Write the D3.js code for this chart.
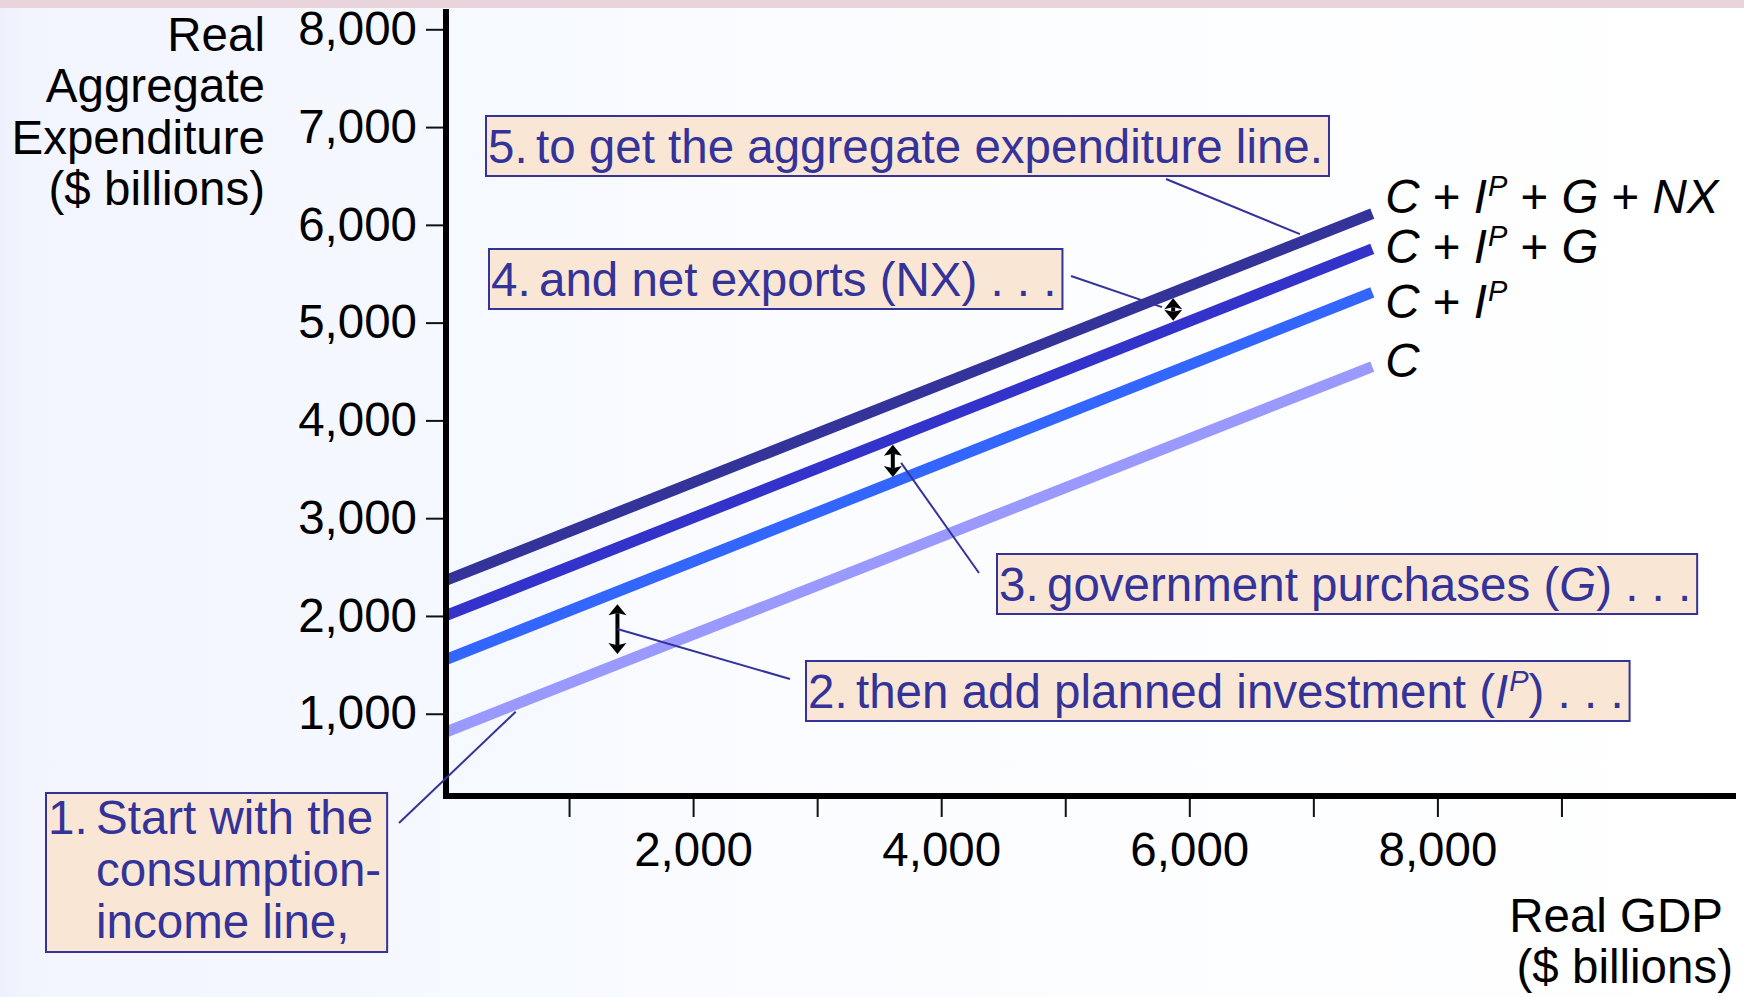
<!DOCTYPE html>
<html>
<head>
<meta charset="utf-8">
<script src="https://cdn.jsdelivr.net/npm/d3@7"></script>
<style>
  html, body { margin: 0; padding: 0; }
  body { width: 1744px; height: 997px; overflow: hidden; }
  svg { display: block; font-family: "Liberation Sans", Arial, sans-serif; }
</style>
</head>
<body>
<svg id="chart" width="1744" height="997"></svg>
<script>
// Values ($ billions). Each line is drawn between two GDP points.
const gdp = [0, 7475];
const consumption = [810, 4550];
const withInvestment = [1550, 5310];
const withGovernment = [2000, 5755];
const withNetExports = [2360, 6115];

const yTicks = [1000, 2000, 3000, 4000, 5000, 6000, 7000, 8000];
const xTicks = [1000, 2000, 3000, 4000, 5000, 6000, 7000, 8000, 9000];
const xLabelled = [2000, 4000, 6000, 8000];

// the little double arrows showing each added component
const arrowGdp = [1390, 3610, 5870];
const arrowTop = [2120, 3750, 5250];
const arrowBottom = [1610, 3420, 5020];

const yTitle = ['Real', 'Aggregate', 'Expenditure', '($ billions)'];
const xTitle = ['Real GDP', '($ billions)'];

const W = 1744, H = 997;
const FONT = 47.5;
const NAVY = '#333399';

const svg = d3.select('#chart');

// Background
const grad = svg.append('defs').append('linearGradient')
    .attr('id', 'bg').attr('x1', 0).attr('x2', 1).attr('y1', 0).attr('y2', 0);
[[0, '#edf1fb'], [0.015, '#f2f5fe'], [0.3, '#f6f9ff'], [0.45, '#fbfcff'], [1, '#ffffff']]
    .forEach(([o, c]) => grad.append('stop').attr('offset', o).attr('stop-color', c));
svg.append('rect').attr('width', W).attr('height', H).attr('fill', 'url(#bg)');
svg.append('rect').attr('width', W).attr('height', 8).attr('fill', '#e9d4dc');

// Scales
const x = d3.scaleLinear().domain([0, 10000]).range([445, 1685.5]);
const y = d3.scaleLinear().domain([0, 8000]).range([811.5, 29.3]);
const baseY = 796; // horizontal axis sits slightly above y = 0 in the original

// helper: write styled runs (italic / superscript) into a text element
function addRuns(text, runs) {
    let shift = 0;
    runs.forEach(([s, style]) => {
        const t = text.append('tspan').text(s);
        if (style.includes('i')) t.attr('font-style', 'italic');
        if (style.includes('s')) {
            t.attr('font-size', 29).attr('dy', -17).attr('dx', 1);
            shift = 17;
        } else if (shift) {
            t.attr('dy', shift);
            shift = 0;
        }
    });
}

// Lines
const series = [
    { values: consumption, color: '#9999ff', label: [['C', 'i']] },
    { values: withInvestment, color: '#3366ff', label: [['C', 'i'], [' + ', ''], ['I', 'i'], ['P', 'si']] },
    { values: withGovernment, color: '#3333cc', label: [['C', 'i'], [' + ', ''], ['I', 'i'], ['P', 'si'], [' + ', ''], ['G', 'i']] },
    { values: withNetExports, color: '#333399', label: [['C', 'i'], [' + ', ''], ['I', 'i'], ['P', 'si'], [' + ', ''], ['G', 'i'], [' + ', ''], ['NX', 'i']] }
];
const labelBaselines = [377, 318, 263, 213];

const line = d3.line()
    .x((d, i) => x(gdp[i]))
    .y(d => y(d));

svg.append('g').selectAll('path')
    .data(series)
    .join('path')
    .attr('d', d => line(d.values))
    .attr('fill', 'none')
    .attr('stroke', d => d.color)
    .attr('stroke-width', 11);

series.forEach((s, i) => {
    const t = svg.append('text')
        .attr('x', x(gdp[1]) + 13)
        .attr('y', labelBaselines[i])
        .attr('font-size', FONT)
        .attr('fill', '#000');
    addRuns(t, s.label);
});

// Axes
const fmt = d3.format(',');
const yAxis = svg.append('g')
    .attr('transform', 'translate(446,0)')
    .call(d3.axisLeft(y).tickValues(yTicks).tickSize(20).tickPadding(9).tickFormat(fmt));
const xAxis = svg.append('g')
    .attr('transform', `translate(0,${baseY})`)
    .call(d3.axisBottom(x).tickValues(xTicks).tickSize(21).tickPadding(15)
        .tickFormat(d => xLabelled.includes(d) ? fmt(d) : ''));

[yAxis, xAxis].forEach(a => {
    a.select('.domain').remove();
    a.selectAll('.tick line').attr('stroke', '#111').attr('stroke-width', 2);
    a.selectAll('.tick text').attr('font-size', FONT).attr('fill', '#000')
        .attr('font-family', '"Liberation Sans", Arial, sans-serif');
});

svg.append('line')
    .attr('x1', 446).attr('x2', 446).attr('y1', 9).attr('y2', baseY + 3)
    .attr('stroke', '#000').attr('stroke-width', 6);
svg.append('line')
    .attr('x1', 443).attr('x2', 1736).attr('y1', baseY).attr('y2', baseY)
    .attr('stroke', '#000').attr('stroke-width', 6);

// Axis titles
yTitle.forEach((s, i) => {
    svg.append('text')
        .attr('x', 265).attr('y', 51 + i * 51.3)
        .attr('text-anchor', 'end')
        .attr('font-size', FONT)
        .text(s);
});
xTitle.forEach((s, i) => {
    svg.append('text')
        .attr('x', i === 0 ? 1723 : 1733).attr('y', 932 + i * 51)
        .attr('text-anchor', 'end')
        .attr('font-size', FONT)
        .text(s);
});

// Double arrows
const arrowG = svg.append('g');
arrowGdp.forEach((g, i) => {
    const ax = x(g), y0 = y(arrowTop[i]), y1 = y(arrowBottom[i]);
    const hh = 11, hw = 9;
    arrowG.append('line')
        .attr('x1', ax).attr('x2', ax)
        .attr('y1', y0 + hh - 2).attr('y2', y1 - hh + 2)
        .attr('stroke', '#000').attr('stroke-width', 4);
    arrowG.append('path')
        .attr('d', `M${ax},${y0}L${ax - hw},${y0 + hh}L${ax},${y0 + hh * 0.8}L${ax + hw},${y0 + hh}Z`
            + `M${ax},${y1}L${ax - hw},${y1 - hh}L${ax},${y1 - hh * 0.8}L${ax + hw},${y1 - hh}Z`)
        .attr('fill', '#000');
});

// Annotations: numbered boxes with leader lines
const notes = [
    { num: '1.', lines: [[['Start with the', '']], [['consumption-', '']], [['income line,', '']]],
      box: [46, 793], h: 159, bases: [41, 93, 145], from: [399, 823], to: [570, 1020] },
    { num: '2.', lines: [[['then add planned investment (', ''], ['I', 'i'], ['P', 'si'], [') . . .', '']]],
      box: [806, 661], h: 60, bases: [47], from: [790, 679], to: [1390, 1866] },
    { num: '3.', lines: [[['government purchases (', ''], ['G', 'i'], [') . . .', '']]],
      box: [997, 554], h: 60, bases: [47], from: [979, 573], to: [3677, 3566] },
    { num: '4.', lines: [[['and net exports (NX) . . .', '']]],
      box: [489, 249], h: 60, bases: [47], from: [1071, 276], to: [5780, 5158] },
    { num: '5.', lines: [[['to get the aggregate expenditure line.', '']]],
      box: [486, 116], h: 60, bases: [47], from: [1166, 179], to: [6892, 5905] }
];

notes.forEach(n => {
    svg.append('line')
        .attr('x1', n.from[0]).attr('y1', n.from[1])
        .attr('x2', x(n.to[0])).attr('y2', y(n.to[1]))
        .attr('stroke', NAVY).attr('stroke-width', 2);
});

notes.forEach(n => {
    const [bx, by] = n.box;
    const g = svg.append('g');
    const txt = g.append('g').attr('fill', NAVY).attr('font-size', FONT);
    txt.append('text').attr('x', bx + 2).attr('y', by + n.bases[0]).text(n.num);
    n.lines.forEach((runs, i) => {
        const t = txt.append('text').attr('x', bx + 50).attr('y', by + n.bases[i]);
        addRuns(t, runs);
    });
    const bb = txt.node().getBBox();
    g.insert('rect', 'g')
        .attr('x', bx).attr('y', by)
        .attr('width', bb.x + bb.width - bx + 6)
        .attr('height', n.h)
        .attr('fill', '#fae6d4')
        .attr('stroke', NAVY)
        .attr('stroke-width', 2);
});
</script>
</body>
</html>
